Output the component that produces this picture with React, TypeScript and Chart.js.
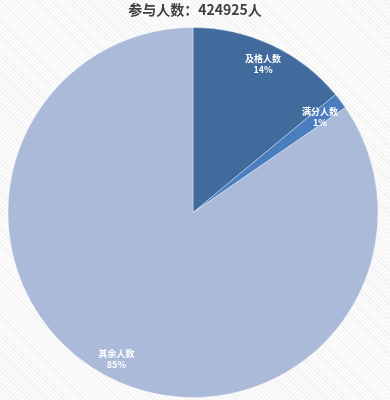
import React, { useEffect, useRef } from "react";
import { Chart, registerables } from "chart.js";

Chart.register(...registerables);

const titleText = "参与人数：424925人";
const categories = ["及格人数", "满分人数", "其余人数"];
const values = [59490, 5949, 359486];
const colors = ["#416b9d", "#4a7ebf", "#abbad8"];

const labelPlugin = {
  id: "sliceLabels",
  afterDatasetsDraw(chart: any) {
    const ctx = chart.ctx;
    const meta = chart.getDatasetMeta(0);
    const total = values.reduce((a, b) => a + b, 0);
    ctx.save();
    ctx.fillStyle = "#ffffff";
    ctx.textAlign = "center";
    ctx.textBaseline = "middle";
    meta.data.forEach((arc: any, i: number) => {
      const { x, y, startAngle, endAngle, outerRadius } = arc.getProps(
        ["x", "y", "startAngle", "endAngle", "outerRadius"],
        true
      );
      const mid = (startAngle + endAngle) / 2;
      const r = outerRadius * (i === 1 ? 0.86 : 0.89);
      const lx = x + Math.cos(mid) * r;
      const ly = y + Math.sin(mid) * r;
      ctx.font = "bold 9px 'Noto Sans CJK SC'";
      ctx.fillText(categories[i], lx, ly - 5);
      ctx.fillText(Math.round((values[i] / total) * 100) + "%", lx, ly + 6);
    });
    ctx.restore();
  },
};

const titlePlugin = {
  id: "topTitle",
  afterDraw(chart: any) {
    const ctx = chart.ctx;
    ctx.save();
    ctx.fillStyle = "#404040";
    ctx.textAlign = "center";
    ctx.textBaseline = "middle";
    ctx.font = "bold 14px 'Noto Sans CJK SC'";
    ctx.fillText(titleText, 195, 10);
    ctx.restore();
  },
};

export default function App() {
  const ref = useRef<HTMLCanvasElement>(null);
  useEffect(() => {
    document.body.style.margin = "0";
    const chart = new Chart(ref.current!, {
      type: "pie",
      data: {
        labels: categories,
        datasets: [
          {
            data: values,
            backgroundColor: colors,
            borderColor: "rgba(255,255,255,0.35)",
            borderWidth: 1,
          },
        ],
      },
      options: {
        animation: false,
        responsive: false,
        layout: { padding: { top: 27, bottom: 2, left: 0, right: 4 } },
        plugins: {
          legend: { display: false },
          title: { display: false },
          tooltip: { enabled: false },
        },
      },
      plugins: [labelPlugin, titlePlugin],
    });
    return () => chart.destroy();
  }, []);
  return (
    <div
      style={{
        width: 390,
        height: 400,
        background:
          "repeating-linear-gradient(45deg, #f1f1f1 0px, #f1f1f1 1px, #fcfcfc 1px, #fcfcfc 3px)",
      }}
    >
      <canvas ref={ref} width={390} height={400} style={{ display: "block" }} />
    </div>
  );
}
